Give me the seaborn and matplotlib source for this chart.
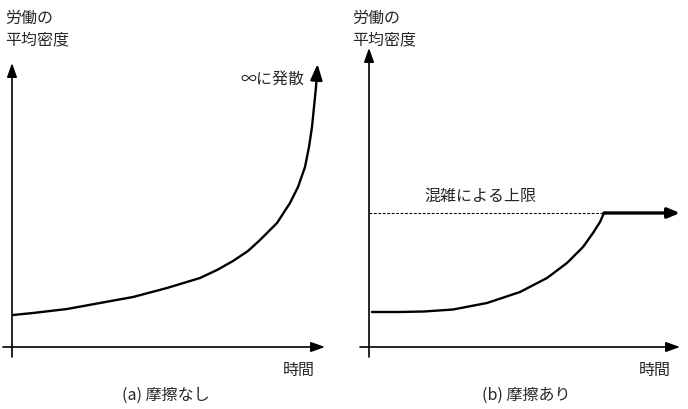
import matplotlib
matplotlib.use("Agg")
import matplotlib.pyplot as plt
import seaborn as sns
import pandas as pd

sns.set_theme(style="white")
plt.rcParams['font.family'] = ['Noto Sans CJK JP', 'DejaVu Sans']

# --- data (time, density); origin at axes crossing ---
time_a = [1, 21, 55, 88, 121, 155, 188, 205, 221, 236, 248, 265, 278, 286, 293, 297, 300, 302, 304]
dens_a = [32, 34, 38, 44, 50, 59, 69, 77, 86, 96, 107, 124, 144, 160, 180, 200, 220, 240, 260]
tip_a = (305.5, 283)

time_b = [3, 30, 55, 84, 118, 151, 178, 198, 214, 224, 231, 235]
dens_b = [35, 35, 35.5, 37.5, 44, 55, 69, 84, 100, 114, 125, 134]
cap_level = 134
cap_end = 311

ylabel = "労働の\n平均密度"
xlabel = "時間"
titles = ["(a) 摩擦なし", "(b) 摩擦あり"]
note_a = "∞に発散"
note_b = "混雑による上限"

W, H = 688, 409
fig = plt.figure(figsize=(W / 100, H / 100), dpi=100)
ax1 = fig.add_axes([0, 0, 0.5, 1])
ax2 = fig.add_axes([0.5, 0, 0.5, 1])
ax1.set_xlim(-12, 332)
ax2.set_xlim(-25, 319)
for ax in (ax1, ax2):
    ax.set_ylim(-62, 347)
    ax.axis("off")

def axes_arrows(ax, x0, x1, y0, y1):
    kw = dict(arrowstyle="-|>,head_length=0.7,head_width=0.25", lw=1.2, color="black",
              shrinkA=0, shrinkB=0)
    ax.annotate("", xy=(x1, 0), xytext=(x0, 0), arrowprops=kw)
    ax.annotate("", xy=(0, y1), xytext=(0, y0), arrowprops=kw)

axes_arrows(ax1, -9, 313, -10, 284)
axes_arrows(ax2, -9, 311, -10, 299)

# Left curve
df_a = pd.DataFrame({"t": time_a, "d": dens_a})
sns.lineplot(data=df_a, x="t", y="d", ax=ax1, color="black", lw=1.7,
             sort=False, estimator=None)
ax1.annotate("", xy=tip_a, xytext=(time_a[-1], dens_a[-1]),
             arrowprops=dict(arrowstyle="-|>,head_length=0.8,head_width=0.3",
                             lw=1.7, color="black", shrinkA=0, shrinkB=0))

# Right curve
df_b = pd.DataFrame({"t": time_b, "d": dens_b})
sns.lineplot(data=df_b, x="t", y="d", ax=ax2, color="black", lw=1.7,
             sort=False, estimator=None)
ax2.plot([0, time_b[-1]], [cap_level, cap_level], color="black", lw=0.8,
         ls=(0, (2.5, 1.5)))
ax2.annotate("", xy=(cap_end, cap_level), xytext=(time_b[-1], cap_level),
             arrowprops=dict(arrowstyle="-|>,head_length=0.6,head_width=0.25",
                             lw=2.4, color="black", shrinkA=0, shrinkB=0))

fs = 11.5
def ftext(px, py, s, **kw):
    fig.text(px / W, 1 - py / H, s, fontsize=fs, **kw)

ftext(5, 29, ylabel, va="center", ha="left", linespacing=1.3)
ftext(352, 29, ylabel, va="center", ha="left", linespacing=1.3)
ftext(299, 370, xlabel, va="center", ha="center")
ftext(655, 370, xlabel, va="center", ha="center")
ftext(166, 395, titles[0], va="center", ha="center")
ftext(526, 395, titles[1], va="center", ha="center")
ftext(272, 79, note_a, va="center", ha="center")
ftext(480, 196, note_b, va="center", ha="center")

fig.savefig("out.png", dpi=100)
